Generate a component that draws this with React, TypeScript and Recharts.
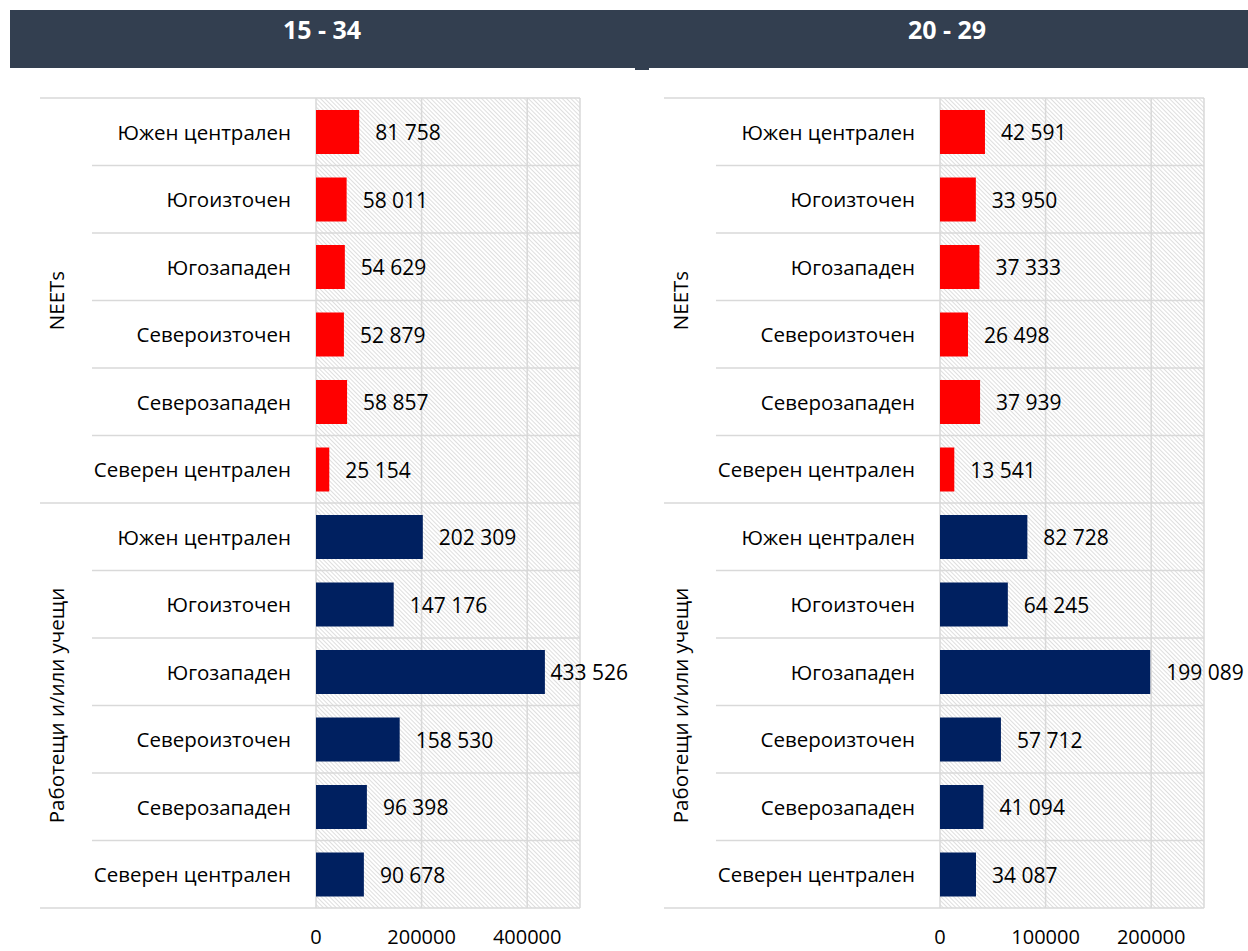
import { Bar, BarChart, CartesianGrid, Cell, LabelList, XAxis, YAxis } from 'recharts';

// региони, отгоре надолу във всяка група
const regions = [
  'Южен централен',
  'Югоизточен',
  'Югозападен',
  'Североизточен',
  'Северозападен',
  'Северен централен',
];
const groups = ['NEETs', 'Работещи и/или учещи'];

const neet1534 = [81758, 58011, 54629, 52879, 58857, 25154];
const work1534 = [202309, 147176, 433526, 158530, 96398, 90678];
const neet2029 = [42591, 33950, 37333, 26498, 37939, 13541];
const work2029 = [82728, 64245, 199089, 57712, 41094, 34087];

const ticks1534 = [0, 200000, 400000];
const ticks2029 = [0, 100000, 200000];
const max1534 = 500000;
const max2029 = 250000;

const FONT = '"Open Sans", sans-serif';
const GRID = '#D9D9D9';
const HEADER = '#333F50';
const RED = '#FF0000';
const NAVY = '#002060';

// размери на графиката
const CHART_H = 871;
const MARGIN_TOP = 18;
const X_AXIS_H = 43;
const CAT_W = 224;
const CAT_GAP = 25;
const GRP_W = 52;
const PLOT_H = CHART_H - MARGIN_TOP - X_AXIS_H;
const LABEL_SIZE = 21;

interface Row {
  key: string;
  region: string;
  group: string;
  value: number;
  color: string;
}

function buildRows(neet: number[], work: number[]): Row[] {
  return [
    ...neet.map((v, i) => ({ key: `n${i}`, region: regions[i], group: groups[0], value: v, color: RED })),
    ...work.map((v, i) => ({ key: `w${i}`, region: regions[i], group: groups[1], value: v, color: NAVY })),
  ];
}

const fmt = (v: number) => String(v).replace(/\B(?=(\d{3})+(?!\d))/g, ' ');

// груба оценка на ширината на число в Open Sans
const textWidth = (s: string, size: number) =>
  s.split('').reduce((w, ch) => w + (ch === ' ' ? 0.26 : 0.572), 0) * size;

function RegionTick(props: any) {
  const { x, y, payload } = props;
  const index = props.index ?? payload?.index ?? 0;
  const n = regions.length * groups.length;
  const band = PLOT_H / n;
  const right = x + CAT_GAP;
  const left = right - CAT_W;
  return (
    <g>
      <line x1={left} x2={right} y1={y - band / 2} y2={y - band / 2} stroke={GRID} strokeWidth={1.5} />
      {index === n - 1 && (
        <line x1={left} x2={right} y1={y + band / 2} y2={y + band / 2} stroke={GRID} strokeWidth={1.5} />
      )}
      <text x={x} y={y} textAnchor="end" dominantBaseline="central" fontSize={20.5} fontFamily={FONT} fill="#000">
        {regions[index % regions.length]}
      </text>
    </g>
  );
}

function GroupTick(props: any) {
  const { x, y, payload } = props;
  const index = props.index ?? payload?.index ?? 0;
  const band = PLOT_H / groups.length;
  const tx = x - 36;
  return (
    <g>
      <line x1={x - GRP_W} x2={x} y1={y - band / 2} y2={y - band / 2} stroke={GRID} strokeWidth={1.5} />
      {index === groups.length - 1 && (
        <line x1={x - GRP_W} x2={x} y1={y + band / 2} y2={y + band / 2} stroke={GRID} strokeWidth={1.5} />
      )}
      <text
        x={tx}
        y={y}
        transform={`rotate(-90, ${tx}, ${y})`}
        textAnchor="middle"
        dominantBaseline="central"
        fontSize={20.5}
        fontFamily={FONT}
        fill="#000"
      >
        {payload?.value}
      </text>
    </g>
  );
}

function ValueLabel(props: any) {
  const { x, y, width, height, value, limit } = props;
  const s = fmt(Number(value));
  let tx = Number(x) + Number(width) + 16;
  const w = textWidth(s, LABEL_SIZE);
  // като в Excel: етикетът не излиза извън областта на графиката
  if (limit && tx + w > limit) tx = limit - w;
  return (
    <text
      x={tx}
      y={Number(y) + Number(height) / 2}
      dominantBaseline="central"
      fontSize={LABEL_SIZE}
      fontFamily={FONT}
      fill="#000"
    >
      {s}
    </text>
  );
}

interface PanelProps {
  id: string;
  rows: Row[];
  ticks: number[];
  max: number;
  width: number;
  marginRight: number;
}

function Panel({ id, rows, ticks, max, width, marginRight }: PanelProps) {
  const band = PLOT_H / rows.length;
  const rowLines = Array.from({ length: rows.length + 1 }, (_, i) => MARGIN_TOP + i * band);
  return (
    <BarChart
      width={width}
      height={CHART_H}
      data={rows}
      layout="vertical"
      margin={{ top: MARGIN_TOP, right: marginRight, bottom: 0, left: 40 }}
    >
      <defs>
        <pattern id={id} width="3" height="3" patternUnits="userSpaceOnUse" patternTransform="rotate(-45)">
          <line x1="0" y1="0" x2="0" y2="3" stroke="#BDBDBD" strokeWidth="1" />
        </pattern>
      </defs>
      <CartesianGrid
        fill={`url(#${id})`}
        stroke={GRID}
        strokeWidth={1.5}
        horizontalPoints={rowLines}
      />
      <XAxis
        type="number"
        domain={[0, max]}
        ticks={ticks}
        allowDataOverflow
        axisLine={false}
        tickLine={false}
        tickSize={0}
        tickMargin={22}
        height={X_AXIS_H}
        tick={{ fontSize: 20, fill: '#000', fontFamily: FONT }}
      />
      <YAxis
        yAxisId="cat"
        type="category"
        dataKey="key"
        width={CAT_W}
        interval={0}
        axisLine={false}
        tickLine={false}
        tickSize={0}
        tickMargin={CAT_GAP}
        tick={<RegionTick />}
      />
      <YAxis
        yAxisId="grp"
        type="category"
        dataKey="group"
        allowDuplicatedCategory={false}
        width={GRP_W}
        interval={0}
        axisLine={false}
        tickLine={false}
        tickSize={0}
        tickMargin={0}
        tick={<GroupTick />}
      />
      <Bar yAxisId="cat" dataKey="value" barSize={44} isAnimationActive={false}>
        {rows.map((r) => (
          <Cell key={r.key} fill={r.color} />
        ))}
        <LabelList dataKey="value" content={<ValueLabel limit={width - 2} />} />
      </Bar>
    </BarChart>
  );
}

export default function App() {
  const rows1534 = buildRows(neet1534, work1534);
  const rows2029 = buildRows(neet2029, work2029);
  return (
    <div
      style={{
        position: 'absolute',
        left: 0,
        top: 0,
        width: 1248,
        height: 951,
        background: '#fff',
        fontFamily: FONT,
        overflow: 'hidden',
      }}
    >
      <svg width={1248} height={80} style={{ position: 'absolute', left: 0, top: 0 }}>
        <rect x={10} y={10} width={1238} height={58} fill={HEADER} />
        <rect x={635} y={67} width={14} height={3} fill={HEADER} />
        <text x={322} y={29} textAnchor="middle" dominantBaseline="central" fontSize={25} fontWeight={700} fontFamily={FONT} fill="#fff">
          15 - 34
        </text>
        <text x={947} y={29} textAnchor="middle" dominantBaseline="central" fontSize={25} fontWeight={700} fontFamily={FONT} fill="#fff">
          20 - 29
        </text>
      </svg>
      <div style={{ position: 'absolute', left: 0, top: 80 }}>
        <Panel id="hatch-a" rows={rows1534} ticks={ticks1534} max={max1534} width={630} marginRight={50} />
      </div>
      <div style={{ position: 'absolute', left: 624, top: 80 }}>
        <Panel id="hatch-b" rows={rows2029} ticks={ticks2029} max={max2029} width={624} marginRight={44} />
      </div>
    </div>
  );
}
